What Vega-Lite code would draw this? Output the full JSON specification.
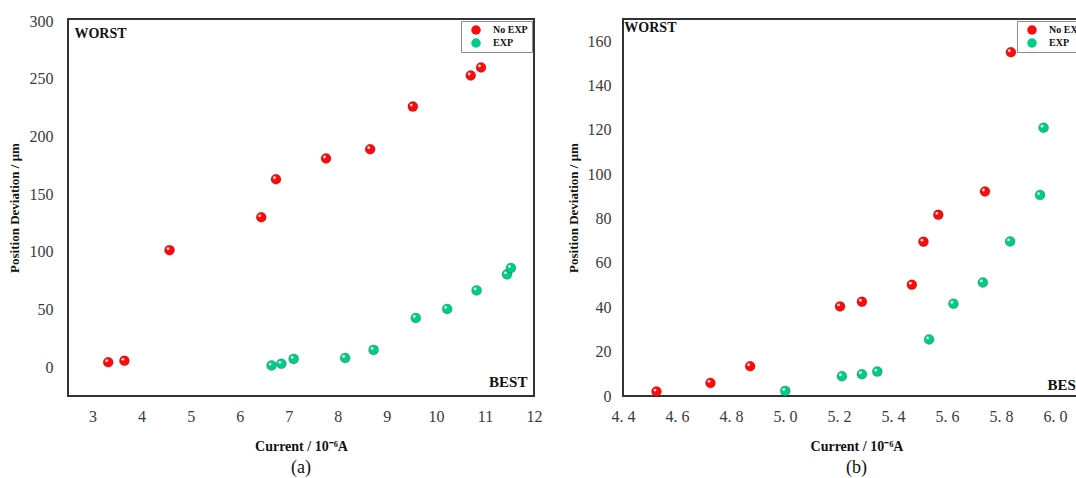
{
  "$schema": "https://vega.github.io/schema/vega-lite/v6.json",
  "background": "white",
  "padding": {"left": 7, "top": 12, "right": 0, "bottom": 0},
  "autosize": {"type": "pad"},
  "bounds": "flush",
  "spacing": 89,
  "datasets": {
    "a": [
      {"current": 3.32, "deviation": 4.3, "series": "No EXP"},
      {"current": 3.65, "deviation": 5.5, "series": "No EXP"},
      {"current": 4.57, "deviation": 101.5, "series": "No EXP"},
      {"current": 6.44, "deviation": 130, "series": "No EXP"},
      {"current": 6.74, "deviation": 163, "series": "No EXP"},
      {"current": 7.76, "deviation": 181, "series": "No EXP"},
      {"current": 8.66, "deviation": 189, "series": "No EXP"},
      {"current": 9.53, "deviation": 226, "series": "No EXP"},
      {"current": 10.71, "deviation": 253, "series": "No EXP"},
      {"current": 10.92, "deviation": 260, "series": "No EXP"},
      {"current": 6.65, "deviation": 1.4, "series": "EXP"},
      {"current": 6.85, "deviation": 2.9, "series": "EXP"},
      {"current": 7.1, "deviation": 7.2, "series": "EXP"},
      {"current": 8.15, "deviation": 8, "series": "EXP"},
      {"current": 8.73, "deviation": 15, "series": "EXP"},
      {"current": 9.59, "deviation": 42.7, "series": "EXP"},
      {"current": 10.23, "deviation": 50.5, "series": "EXP"},
      {"current": 10.83, "deviation": 66.6, "series": "EXP"},
      {"current": 11.45, "deviation": 80.5, "series": "EXP"},
      {"current": 11.53, "deviation": 86, "series": "EXP"}
    ],
    "b": [
      {"current": 4.524, "deviation": 2, "series": "No EXP"},
      {"current": 4.724, "deviation": 5.9, "series": "No EXP"},
      {"current": 4.871, "deviation": 13.4, "series": "No EXP"},
      {"current": 5.204, "deviation": 40.4, "series": "No EXP"},
      {"current": 5.285, "deviation": 42.5, "series": "No EXP"},
      {"current": 5.47, "deviation": 50.2, "series": "No EXP"},
      {"current": 5.513, "deviation": 69.6, "series": "No EXP"},
      {"current": 5.568, "deviation": 81.7, "series": "No EXP"},
      {"current": 5.741, "deviation": 92.2, "series": "No EXP"},
      {"current": 5.837, "deviation": 155, "series": "No EXP"},
      {"current": 5.001, "deviation": 2.3, "series": "EXP"},
      {"current": 5.211, "deviation": 8.9, "series": "EXP"},
      {"current": 5.285, "deviation": 9.8, "series": "EXP"},
      {"current": 5.342, "deviation": 11, "series": "EXP"},
      {"current": 5.534, "deviation": 25.5, "series": "EXP"},
      {"current": 5.624, "deviation": 41.6, "series": "EXP"},
      {"current": 5.733, "deviation": 51.2, "series": "EXP"},
      {"current": 5.834, "deviation": 69.7, "series": "EXP"},
      {"current": 5.945, "deviation": 90.6, "series": "EXP"},
      {"current": 5.958, "deviation": 121, "series": "EXP"}
    ]
  },
  "config": {
    "view": {"stroke": "#333333", "strokeWidth": 2},
    "axis": {
      "grid": false, "ticks": false, "tickSize": 0, "domain": false,
      "labelFont": "Liberation Serif", "labelFontSize": 16, "labelColor": "#3a3a3a",
      "titleFont": "Liberation Serif", "titleFontWeight": "bold", "titleFontSize": 14, "titleColor": "#111"
    },
    "legend": {
      "orient": "top-right", "offset": 2, "title": null,
      "strokeColor": "#8a8a8a", "fillColor": "white", "padding": 4,
      "symbolOffset": 6, "labelOffset": 12, "rowPadding": 3,
      "labelFont": "Liberation Serif", "labelFontWeight": "bold", "labelFontSize": 10, "labelColor": "#111",
      "symbolType": "circle", "symbolSize": 90, "symbolStrokeWidth": 0
    },
    "title": {"font": "Liberation Serif", "fontSize": 18, "fontWeight": "normal", "color": "#111"}
  },
  "resolve": {"legend": {"color": "independent"}},
  "hconcat": [
    {
      "width": 466, "height": 377,
      "title": {"text": "(a)", "orient": "bottom", "offset": 6},
      "data": {"name": "a"},
      "layer": [
        {
          "mark": {"type": "point", "filled": true, "size": 100, "opacity": 1, "stroke": "#000", "strokeOpacity": 0.18, "strokeWidth": 1},
          "encoding": {
            "x": {"field": "current", "type": "quantitative",
              "scale": {"domain": [2.5, 12], "nice": false, "zero": false},
              "axis": {"values": [3, 4, 5, 6, 7, 8, 9, 10, 11, 12], "labelPadding": 12, "labelFlush": false, "title": "Current / 10⁻⁶A", "titlePadding": 15}},
            "y": {"field": "deviation", "type": "quantitative",
              "scale": {"domain": [-25, 302], "nice": false, "zero": false},
              "axis": {"values": [0, 50, 100, 150, 200, 250, 300], "labelPadding": 15, "title": "Position Deviation / μm", "titleFontSize": 13, "titlePadding": 8}},
            "color": {"field": "series", "type": "nominal",
              "scale": {"domain": ["No EXP", "EXP"], "range": ["#ff0a0a", "#00cc88"]}}
          }
        },
        {
          "mark": {"type": "point", "filled": true, "size": 8, "color": "white", "opacity": 0.85, "xOffset": -1.5, "yOffset": -1.5},
          "encoding": {
            "x": {"field": "current", "type": "quantitative"},
            "y": {"field": "deviation", "type": "quantitative"}
          }
        },
        {
          "data": {"values": [{}]},
          "mark": {"type": "text", "text": "WORST", "align": "left", "baseline": "middle", "font": "Liberation Serif", "fontWeight": "bold", "fontSize": 14, "color": "#111"},
          "encoding": {"x": {"datum": 2.63, "type": "quantitative"}, "y": {"datum": 289, "type": "quantitative"}}
        },
        {
          "data": {"values": [{}]},
          "mark": {"type": "text", "text": "BEST", "align": "right", "baseline": "middle", "font": "Liberation Serif", "fontWeight": "bold", "fontSize": 15, "color": "#111"},
          "encoding": {"x": {"datum": 11.866, "type": "quantitative"}, "y": {"datum": -13, "type": "quantitative"}}
        }
      ]
    },
    {
      "width": 467, "height": 377,
      "title": {"text": "(b)", "orient": "bottom", "offset": 6},
      "data": {"name": "b"},
      "layer": [
        {
          "mark": {"type": "point", "filled": true, "size": 100, "opacity": 1, "stroke": "#000", "strokeOpacity": 0.18, "strokeWidth": 1},
          "encoding": {
            "x": {"field": "current", "type": "quantitative",
              "scale": {"domain": [4.4, 6.13], "nice": false, "zero": false},
              "axis": {"values": [4.4, 4.6, 4.8, 5.0, 5.2, 5.4, 5.6, 5.8, 6.0], "labelExpr": "replace(format(datum.value, '.1f'), '.', '. ')", "labelPadding": 12, "labelFlush": false, "title": "Current / 10⁻⁶A", "titlePadding": 15}},
            "y": {"field": "deviation", "type": "quantitative",
              "scale": {"domain": [0, 170], "nice": false, "zero": false},
              "axis": {"values": [0, 20, 40, 60, 80, 100, 120, 140, 160], "labelPadding": 12, "title": "Position Deviation / μm", "titleFontSize": 13, "titlePadding": 7}},
            "color": {"field": "series", "type": "nominal",
              "scale": {"domain": ["No EXP", "EXP"], "range": ["#ff0a0a", "#00cc88"]}}
          }
        },
        {
          "mark": {"type": "point", "filled": true, "size": 8, "color": "white", "opacity": 0.85, "xOffset": -1.5, "yOffset": -1.5},
          "encoding": {
            "x": {"field": "current", "type": "quantitative"},
            "y": {"field": "deviation", "type": "quantitative"}
          }
        },
        {
          "data": {"values": [{}]},
          "mark": {"type": "text", "text": "WORST", "align": "left", "baseline": "middle", "font": "Liberation Serif", "fontWeight": "bold", "fontSize": 14, "color": "#111"},
          "encoding": {"x": {"datum": 4.405, "type": "quantitative"}, "y": {"datum": 166, "type": "quantitative"}}
        },
        {
          "data": {"values": [{}]},
          "mark": {"type": "text", "text": "BEST", "align": "right", "baseline": "middle", "font": "Liberation Serif", "fontWeight": "bold", "fontSize": 15, "color": "#111"},
          "encoding": {"x": {"datum": 6.115, "type": "quantitative"}, "y": {"datum": 5, "type": "quantitative"}}
        }
      ]
    }
  ]
}
